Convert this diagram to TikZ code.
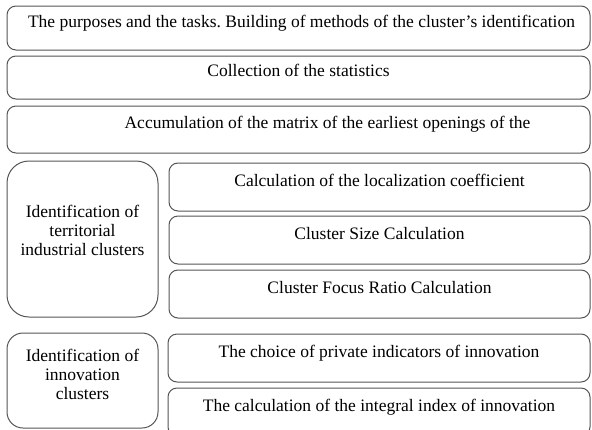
\documentclass[tikz,border=0pt]{standalone}
\usepackage{fontspec}
\setmainfont{Liberation Serif}
\usepackage{tikz}
\usetikzlibrary{positioning}
\frenchspacing
\definecolor{boxline}{RGB}{85,85,85}
\tikzstyle{wbox} = [draw=boxline, line width=1pt, rounded corners=9pt, inner sep=0pt]
\tikzstyle{wide} = [wbox, minimum width=583pt]
\tikzstyle{right} = [wbox, minimum width=421pt, minimum height=48pt]
\tikzstyle{txt} = [font=\fontsize{17.5pt}{19pt}\selectfont, inner sep=0pt, anchor=base, yshift=1pt]
\tikzstyle{ltxt} = [font=\fontsize{17.5pt}{19pt}\selectfont, inner sep=0pt, align=center]

\begin{document}
\begin{tikzpicture}[x=1pt, y=-1pt]
			\useasboundingbox (0,0) rectangle (592,429);
			\clip (0,0) rectangle (592,429);
			\node [wide, minimum height=44pt] (aims) at (298.5, 28) {};
			\node [wide, minimum height=43pt] (stats) at (298.5, 77.5) {};
			\node [wide, minimum height=47pt] (matrix) at (298.5, 129.5) {};
			\node [wbox, rounded corners=22pt, minimum width=151pt, minimum height=156pt] (terr) at (82.5, 239) {};
			\node [right] (loc) at (379.5, 187) {};
			\node [right] (size) at (379.5, 240) {};
			\node [right] (focus) at (379.5, 294) {};
			\node [wbox, rounded corners=16pt, minimum width=151pt, minimum height=95pt] (innov) at (82.5, 380.5) {};
			\node [right, minimum width=422pt] (choice) at (379, 358) {};
			\node [right, minimum width=422pt] (integral) at (379, 412) {};
			
			\node [txt, xshift=3pt] at (aims.center) {The purposes and the tasks. Building of methods of the cluster’s identification};
			\node [txt] at (stats.center) {Collection of the statistics};
			\node [txt, xshift=29pt] at (matrix.center) {Accumulation of the matrix of the earliest openings of the};
			\node [ltxt, yshift=9pt] at (terr.center) {Identification of\\territorial\\industrial clusters};
			\node [txt] at (loc.center) {Calculation of the localization coefficient};
			\node [txt] at (size.center) {Cluster Size Calculation};
			\node [txt] at (focus.center) {Cluster Focus Ratio Calculation};
			\node [ltxt, yshift=6pt] at (innov.center) {Identification of\\innovation\\clusters};
			\node [txt] at (choice.center) {The choice of private indicators of innovation};
			\node [txt] at (integral.center) {The calculation of the integral index of innovation};
		\end{tikzpicture}
\end{document}
